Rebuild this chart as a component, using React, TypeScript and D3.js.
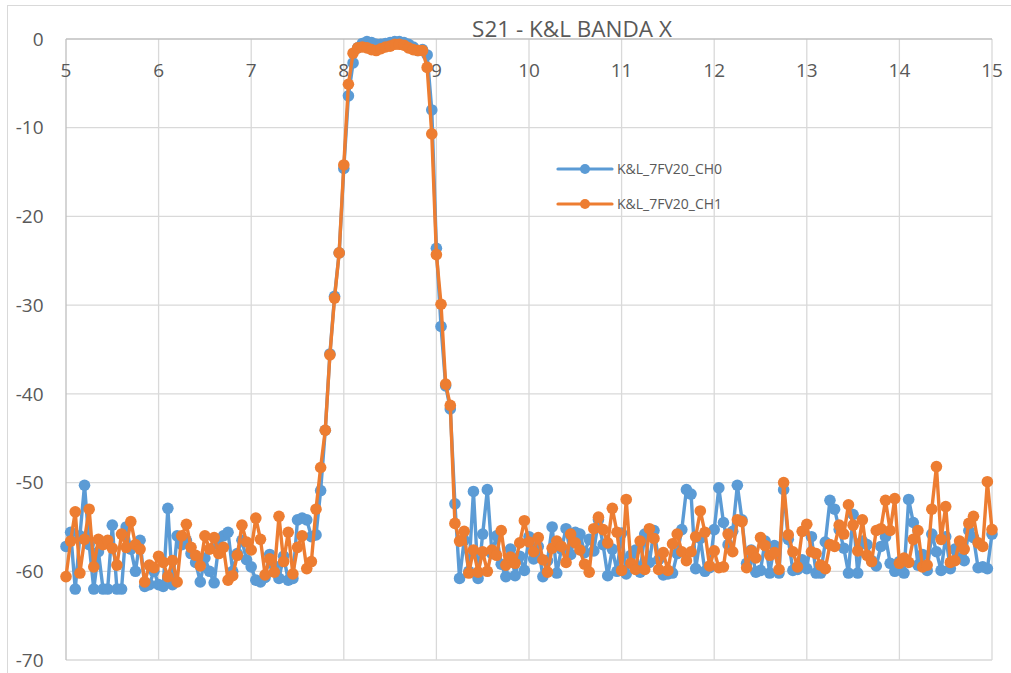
import React from "react";
import * as d3 from "d3";

const title = "S21 - K&L BANDA X";
const xTicks = [5, 6, 7, 8, 9, 10, 11, 12, 13, 14, 15];
const yTicks = [0, -10, -20, -30, -40, -50, -60, -70];
const freqStart = 5;
const freqStep = 0.05;
const seriesNames = ["K&L_7FV20_CH0", "K&L_7FV20_CH1"];
const seriesColors = ["#5B9BD5", "#ED7D31"];

const ch0 = [
  -57.2, -55.6, -62.0, -56.0, -50.3, -57.0, -62.0, -57.8, -62.0, -62.0,
  -54.8, -62.0, -62.0, -55.0, -57.5, -60.0, -56.5, -61.7, -61.5, -60.0,
  -61.5, -61.7, -52.9, -61.5, -56.0, -57.0, -56.5, -58.0, -59.0, -61.2,
  -58.5, -60.0, -61.3, -57.0, -56.0, -55.6, -60.0, -58.0, -56.5, -58.7,
  -59.5, -61.0, -61.2, -60.7, -58.1, -59.4, -60.8, -58.3, -61.0, -60.8,
  -54.2, -54.0, -54.2, -56.1, -55.9, -50.9, -44.1, -35.5, -29.0, -24.1,
  -14.6, -6.4, -2.7, -1.0, -0.5, -0.3, -0.4, -0.6, -0.6, -0.5,
  -0.4, -0.3, -0.3, -0.4, -0.6, -0.9, -1.3, -1.2, -1.8, -8.0,
  -23.6, -32.4, -39.1, -41.7, -52.4,
  -60.8, -56.5, -60.0, -51.0, -60.8, -55.8, -50.8, -58.0, -56.0, -59.2,
  -60.6, -57.5, -60.5, -58.3, -59.9, -56.1, -58.6, -57.2, -60.6, -58.8,
  -55.0, -60.2, -57.5, -55.2, -58.1, -55.6, -55.8, -57.9, -56.4, -57.7,
  -54.2, -57.0, -60.5, -57.5, -60.0, -55.7, -60.3, -58.2, -57.6, -60.1,
  -55.8, -59.0, -55.4, -58.7, -60.4, -60.3, -60.2, -58.0, -55.3, -50.8,
  -51.3, -59.7, -56.3, -60.0, -59.6, -55.3, -50.6, -54.5, -57.0, -55.5,
  -50.3, -54.2, -59.1, -57.6, -60.1, -59.9, -56.6, -60.2, -57.1, -60.2,
  -50.8, -56.4, -59.9, -59.8, -58.7, -59.7, -56.1, -60.2, -60.2, -56.7,
  -52.0, -53.0, -55.3, -57.4, -60.2, -53.6, -60.2, -56.6, -57.0, -58.8,
  -59.4, -57.2, -56.1, -59.1, -60.0, -58.9, -60.2, -51.9, -54.5, -59.3,
  -58.1, -59.9, -55.8, -57.8, -59.9, -56.1, -59.7, -57.5, -58.5, -58.8,
  -55.4, -56.2, -59.6, -59.5, -59.7, -55.8,
];

const ch1 = [
  -60.6, -56.6, -53.3, -60.2, -56.4, -53.0, -59.5, -56.4, -57.0, -56.5,
  -57.4, -59.3, -55.8, -57.3, -54.4, -57.0, -57.5, -61.2, -59.3, -59.6,
  -58.3, -59.0, -60.6, -58.8, -61.2, -56.0, -54.7, -57.3, -58.2, -59.4,
  -56.0, -57.5, -56.2, -58.0, -57.3, -61.0, -60.5, -58.2, -54.8, -56.7,
  -57.6, -54.0, -56.4, -60.4, -58.6, -60.1, -53.8, -58.9, -55.6, -60.3,
  -57.3, -56.0, -59.7, -58.9, -53.0, -48.3, -44.1, -35.6, -29.2, -24.1,
  -14.2, -5.1, -1.6, -1.0, -0.9, -1.0, -1.2, -1.3, -1.1, -0.9,
  -0.8, -0.6, -0.6, -0.7, -1.0, -1.2, -1.3, -1.3, -3.2, -10.7,
  -24.3, -29.9, -38.9, -41.3, -54.6,
  -56.6, -55.5, -60.2, -57.6, -60.1, -57.8, -60.0, -57.6, -58.2, -55.4,
  -59.3, -58.4, -59.1, -56.8, -54.3, -56.7, -57.8, -56.2, -58.7, -60.1,
  -57.4, -56.6, -57.2, -59.0, -55.8, -56.8, -57.6, -59.2, -60.1, -55.2,
  -53.9, -55.3, -56.8, -52.9, -55.6, -59.9, -51.9, -59.1, -59.8, -56.6,
  -59.8, -55.2, -56.3, -59.8, -57.9, -59.9, -56.9, -55.8, -57.8, -58.8,
  -57.8, -56.1, -53.2, -55.6, -59.4, -57.7, -59.6, -59.5, -55.8, -57.8,
  -54.2, -54.4, -59.6, -57.7, -58.5, -56.2, -57.1, -58.2, -57.9, -59.8,
  -50.0, -55.9, -57.8, -59.5, -55.5, -54.7, -57.8, -58.0, -59.3, -59.7,
  -57.0, -57.2, -54.8, -55.8, -52.5, -54.8, -57.7, -54.2, -58.2, -58.9,
  -55.4, -55.2, -52.0, -55.4, -51.8, -59.1, -58.5, -59.0, -56.4, -55.4,
  -59.5, -59.3, -53.0, -48.2, -56.4, -52.7, -59.0, -58.8, -56.6, -57.5,
  -54.6, -53.8, -56.8, -57.2, -49.9, -55.3,
];

const W = 1011;
const H = 673;
const plot = { left: 66, right: 992, top: 39, bottom: 660 };
const FONT = "'Open Sans', 'Noto Sans', sans-serif";
const TEXT = "#595959";

export default function App() {
  const x = d3.scaleLinear().domain([5, 15]).range([plot.left, plot.right]);
  const y = d3.scaleLinear().domain([0, -70]).range([plot.top, plot.bottom]);
  const series = [ch0, ch1];
  const line = d3
    .line<number>()
    .x((_, i) => x(freqStart + i * freqStep))
    .y((d) => y(d));

  return (
    <svg
      width={W}
      height={H}
      style={{ position: "absolute", left: 0, top: 0, background: "#fff" }}
    >
      <rect x={7.5} y={5.5} width={1100} height={1000} fill="#fff" stroke="#D9D9D9" strokeWidth={1} />
      {yTicks.filter((t) => t !== 0).map((t) => (
        <line key={"h" + t} x1={plot.left} x2={plot.right} y1={y(t)} y2={y(t)} stroke="#D9D9D9" strokeWidth={1.3} />
      ))}
      {xTicks.filter((t) => t !== 5).map((t) => (
        <line key={"v" + t} x1={x(t)} x2={x(t)} y1={plot.top} y2={plot.bottom} stroke="#D9D9D9" strokeWidth={1.3} />
      ))}
      <line x1={plot.left} x2={plot.right} y1={y(0)} y2={y(0)} stroke="#BFBFBF" strokeWidth={1.3} />
      <line x1={plot.left} x2={plot.left} y1={plot.top} y2={plot.bottom} stroke="#BFBFBF" strokeWidth={1.3} />
      {yTicks.map((t) => (
        <text key={"yl" + t} x={43.5} y={y(t)} dy="0.35em" textAnchor="end" fontFamily={FONT} fontSize={19} fill={TEXT}>
          {t}
        </text>
      ))}
      {xTicks.map((t) => (
        <text key={"xl" + t} x={x(t)} y={77} textAnchor="middle" fontFamily={FONT} fontSize={19} fill={TEXT}>
          {t}
        </text>
      ))}
      <text x={572} y={37} textAnchor="middle" fontFamily={FONT} fontSize={22.5} fill={TEXT}>
        {title}
      </text>
      {series.map((s, k) => (
        <g key={"s" + k}>
          <path d={line(s) || ""} fill="none" stroke={seriesColors[k]} strokeWidth={3.4} strokeLinejoin="round" />
          {s.map((v, i) => (
            <circle key={i} cx={x(freqStart + i * freqStep)} cy={y(v)} r={5.8} fill={seriesColors[k]} />
          ))}
        </g>
      ))}
      {seriesNames.map((n, k) => {
        const ly = 169 + k * 35;
        return (
          <g key={"lg" + k}>
            <line x1={558} x2={612} y1={ly} y2={ly} stroke={seriesColors[k]} strokeWidth={3.2} strokeLinecap="round" />
            <circle cx={585} cy={ly} r={5} fill={seriesColors[k]} />
            <text x={617} y={ly} dy="0.35em" fontFamily={FONT} fontSize={14} fill={TEXT}>
              {n}
            </text>
          </g>
        );
      })}
    </svg>
  );
}
